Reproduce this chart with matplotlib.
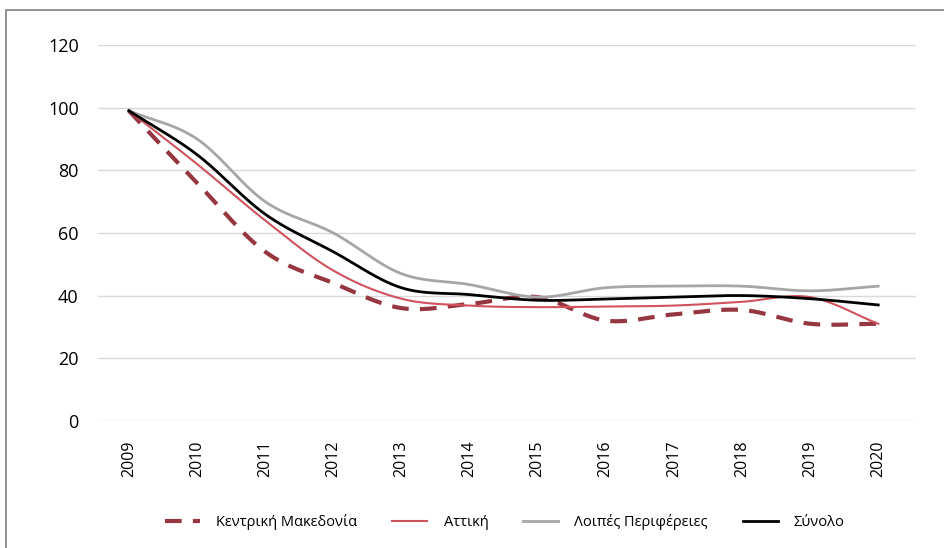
import numpy as np
import matplotlib.pyplot as plt
from matplotlib.patches import Rectangle

plt.rcParams['font.family'] = ['Open Sans', 'DejaVu Sans']

years = ['2009', '2010', '2011', '2012', '2013', '2014', '2015', '2016', '2017', '2018', '2019', '2020']
kentriki = [99, 76, 54, 44, 36, 37.3, 39.5, 32, 34, 35.4, 31, 31]
attiki = [99, 82, 64, 48, 39, 36.8, 36.3, 36.5, 36.8, 38, 39.5, 31]
loipes = [99, 90, 70, 60, 47, 43.5, 39.5, 42.5, 43, 43, 41.5, 43]
synolo = [99, 85, 66, 54, 42.5, 40.3, 38.5, 38.9, 39.5, 40, 39, 37]


def smooth(y, n=30):
    # catmull-rom curve through the points, like excel's smoothed line
    y = np.asarray(y, float)
    x = np.arange(len(y), dtype=float)
    px = np.concatenate([[2 * x[0] - x[1]], x, [2 * x[-1] - x[-2]]])
    py = np.concatenate([[2 * y[0] - y[1]], y, [2 * y[-1] - y[-2]]])
    xs, ys = [], []
    t = np.linspace(0, 1, n)
    for i in range(1, len(px) - 2):
        for p, out in ((px, xs), (py, ys)):
            p0, p1, p2, p3 = p[i - 1], p[i], p[i + 1], p[i + 2]
            out.append(0.5 * (2 * p1 + (-p0 + p2) * t + (2 * p0 - 5 * p1 + 4 * p2 - p3) * t ** 2
                              + (-p0 + 3 * p1 - 3 * p2 + p3) * t ** 3))
    return np.concatenate(xs), np.concatenate(ys)


fig = plt.figure(figsize=(9.44, 5.48), dpi=100)
ax = fig.add_axes([0.104, 0.232, 0.866, 0.686])

series = [
    (kentriki, 'Κεντρική Μακεδονία', '#953640', 3.0, (0, (4, 2.7))),
    (attiki, 'Αττική', '#d0525c', 1.5, '-'),
    (loipes, 'Λοιπές Περιφέρειες', '#a6a6a6', 2.0, '-'),
    (synolo, 'Σύνολο', '#000000', 2.0, '-'),
]
for vals, name, col, lw, ls in series:
    sx, sy = smooth(vals)
    ax.plot(sx, sy, color=col, lw=lw, linestyle=ls, label=name, zorder=3)

ax.set_ylim(0, 120)
ax.set_xlim(-0.45, 11.55)
ax.set_yticks(range(0, 121, 20))
ax.set_xticks(range(len(years)))
ax.set_xticklabels(years, rotation=90, fontsize=11.5, va='top')
ax.tick_params(axis='y', labelsize=13, length=0, pad=14)
ax.tick_params(axis='x', length=0, pad=14)
ax.grid(axis='y', color='#d9d9d9', lw=1)
ax.set_axisbelow(True)
for s in ax.spines.values():
    s.set_visible(False)

fig.legend(loc='center', bbox_to_anchor=(0.535, 0.047), ncol=4, frameon=False,
           fontsize=10.5, handlelength=2.4, columnspacing=2.4, handletextpad=1.1)

fig.patches.append(Rectangle((0.006, -0.1), 1.2, 1.081, transform=fig.transFigure,
                             fill=False, edgecolor='#7f7f7f', lw=1.2))

fig.savefig('out.png', dpi=100)
